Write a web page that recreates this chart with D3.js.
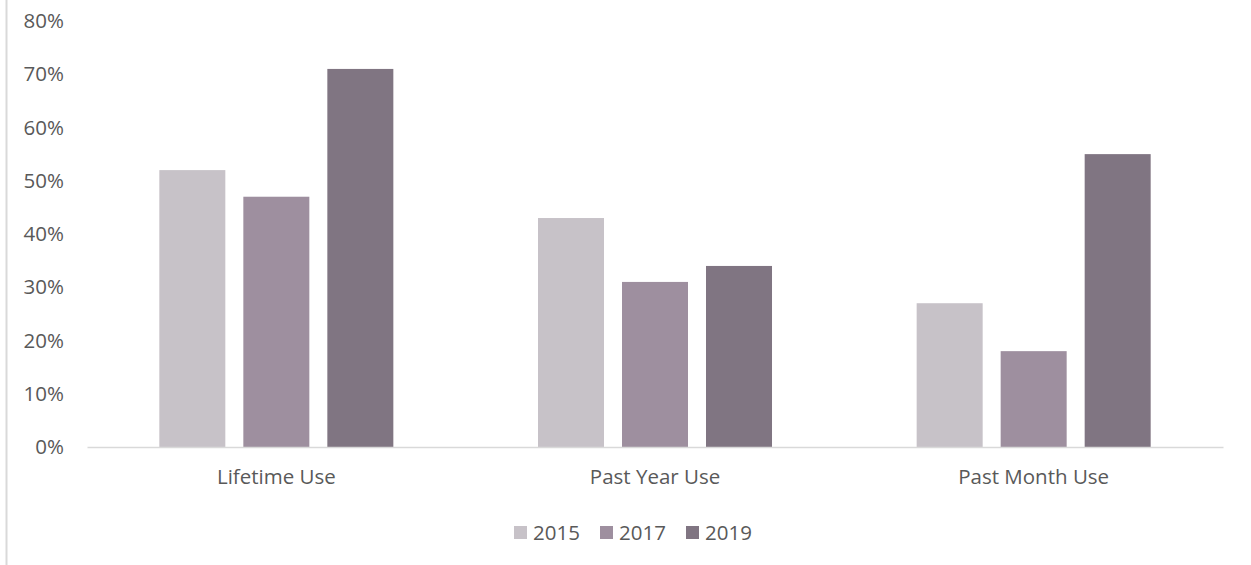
<!DOCTYPE html>
<html>
<head>
<meta charset="utf-8">
<script src="https://cdn.jsdelivr.net/npm/d3@7"></script>
<style>
  html, body { margin: 0; padding: 0; background: #fff; }
  svg { display: block; font-family: "Open Sans", "Noto Sans", sans-serif; }
</style>
</head>
<body>
<svg id="chart" width="1251" height="565"></svg>
<script>
// Survey results: share of respondents by usage period and year
const categories = ["Lifetime Use", "Past Year Use", "Past Month Use"];
const years = ["2015", "2017", "2019"];
const values2015 = [52, 43, 27];
const values2017 = [47, 31, 18];
const values2019 = [71, 34, 55];
const yTicks = [0, 10, 20, 30, 40, 50, 60, 70, 80];
const colors = ["#c7c2c8", "#9e8f9f", "#807582"];

const seriesValues = [values2015, values2017, values2019];

const svg = d3.select("#chart");
const W = 1251, H = 565;
const plot = { left: 87, right: 1223, top: 21, bottom: 447 };
const fontSize = "20.5px";

const x0 = d3.scaleBand()
  .domain(categories)
  .range([plot.left, plot.right])
  .paddingInner(0.382)
  .paddingOuter(0.191);

const x1 = d3.scaleBand()
  .domain(years)
  .range([0, x0.bandwidth()])
  .paddingInner(0.2143)
  .paddingOuter(0);

const y = d3.scaleLinear()
  .domain([0, 80])
  .range([plot.bottom, plot.top]);

// outer frame edge on the left
svg.append("line")
  .attr("x1", 6.5).attr("x2", 6.5)
  .attr("y1", 0).attr("y2", H)
  .attr("stroke", "#d9d9d9").attr("stroke-width", 2);

// y axis labels
const yAxis = d3.axisLeft(y)
  .tickValues(yTicks)
  .tickFormat(d => d + "%")
  .tickSize(0)
  .tickPadding(0);
const gy = svg.append("g")
  .attr("transform", `translate(64,0)`)
  .call(yAxis);
gy.select(".domain").remove();
gy.selectAll("text")
  .attr("fill", "#595959")
  .attr("font-size", fontSize)
  .attr("font-family", "\"Open Sans\", sans-serif");

// bars
const groups = svg.append("g")
  .selectAll("g")
  .data(categories)
  .join("g")
  .attr("transform", d => `translate(${x0(d)},0)`);

groups.selectAll("rect")
  .data((d, i) => years.map((yr, j) => ({ year: yr, value: seriesValues[j][i], color: colors[j] })))
  .join("rect")
  .attr("x", d => x1(d.year))
  .attr("width", x1.bandwidth())
  .attr("y", d => y(d.value))
  .attr("height", d => y(0) - y(d.value))
  .attr("fill", d => d.color);

// x axis baseline and category labels
const xAxis = d3.axisBottom(x0).tickSize(0).tickPadding(22);
const gx = svg.append("g")
  .attr("transform", `translate(0,${plot.bottom})`)
  .call(xAxis);
gx.select(".domain")
  .attr("stroke", "#d9d9d9")
  .attr("stroke-width", 1.5);
gx.selectAll("text")
  .attr("fill", "#595959")
  .attr("font-size", fontSize)
  .attr("font-family", "\"Open Sans\", sans-serif");

// legend
const legendX = [514, 600, 686];
const legend = svg.append("g")
  .selectAll("g")
  .data(years)
  .join("g")
  .attr("transform", (d, i) => `translate(${legendX[i]},526)`);
legend.append("rect")
  .attr("width", 13).attr("height", 13)
  .attr("fill", (d, i) => colors[i]);
legend.append("text")
  .attr("x", 19).attr("y", 6.5)
  .attr("dy", "0.35em")
  .attr("fill", "#595959")
  .attr("font-size", fontSize)
  .text(d => d);
</script>
</body>
</html>
